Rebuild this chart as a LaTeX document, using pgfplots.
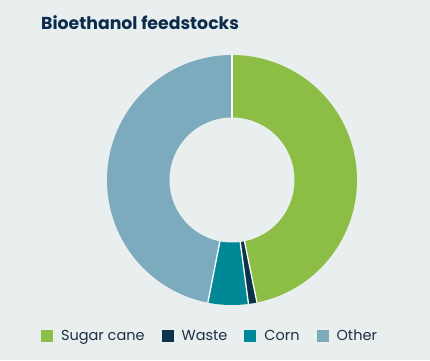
\documentclass[border=0pt]{standalone}
\usepackage{fontspec}
\setmainfont{Poppins}
\usepackage{pgfplots}
\usepackage{pgfplotstable}
\pgfplotsset{compat=1.18}
\definecolor{bg}{HTML}{E9EEEF}
\definecolor{cSugar}{HTML}{8CBD45}
\definecolor{cWaste}{HTML}{0B3349}
\definecolor{cCorn}{HTML}{008896}
\definecolor{cOther}{HTML}{7BABBD}
\definecolor{titlec}{HTML}{0B2B4B}
\definecolor{textc}{HTML}{1C3044}

\pgfplotstableread{
label value
Sugar 46.8
Waste 1.1
Corn 5.2
Other 46.9
}\feedstocks
\pgfplotstablegetelem{0}{value}\of\feedstocks \let\vA\pgfplotsretval
\pgfplotstablegetelem{1}{value}\of\feedstocks \let\vB\pgfplotsretval
\pgfplotstablegetelem{2}{value}\of\feedstocks \let\vC\pgfplotsretval
\pgfplotstablegetelem{3}{value}\of\feedstocks \let\vD\pgfplotsretval
\pgfmathsetmacro{\tot}{\vA+\vB+\vC+\vD}
\pgfmathsetmacro{\aA}{90}
\pgfmathsetmacro{\aB}{\aA-(\vA/\tot)*360}
\pgfmathsetmacro{\aC}{\aB-(\vB/\tot)*360}
\pgfmathsetmacro{\aD}{\aC-(\vC/\tot)*360}
\pgfmathsetmacro{\aE}{\aD-(\vD/\tot)*360}
\pgfmathsetmacro{\xA}{cos(\aA)}\pgfmathsetmacro{\yA}{sin(\aA)}
\pgfmathsetmacro{\xB}{cos(\aB)}\pgfmathsetmacro{\yB}{sin(\aB)}
\pgfmathsetmacro{\xC}{cos(\aC)}\pgfmathsetmacro{\yC}{sin(\aC)}
\pgfmathsetmacro{\xD}{cos(\aD)}\pgfmathsetmacro{\yD}{sin(\aD)}
\def\rin{0.5}

\begin{document}
\begin{tikzpicture}
\fill[bg] (0pt,0pt) rectangle (430pt,360pt);
\node[anchor=base west, inner sep=0pt, text=titlec, font=\fontsize{17.3}{20}\selectfont\bfseries] at (41pt,331pt) {Bioethanol feedstocks};
\begin{axis}[
  at={(232pt,180pt)}, anchor=center,
  scale only axis, width=250pt, height=250pt,
  xmin=-1, xmax=1, ymin=-1, ymax=1,
  hide axis, clip=false,
  legend columns=4,
  legend image code/.code={\fill[#1,draw=none] (0pt,-6pt) rectangle (12pt,6pt);},
  legend style={at={(axis description cs:0.408,-0.125)}, anchor=center,
    draw=none, fill=none, text=textc,
    font=\fontsize{14.5}{16}\selectfont,
    nodes={inner sep=0pt},
    /tikz/every odd column/.append style={column sep=8pt},
    /tikz/every even column/.append style={column sep=17pt}},
]
\addplot[fill=cSugar, draw=none, domain=\aB:\aA, samples=80, forget plot] ({cos(x)},{sin(x)}) -- (0,0) -- cycle;
\addplot[fill=cWaste, draw=none, domain=\aC:\aB, samples=10, forget plot] ({cos(x)},{sin(x)}) -- (0,0) -- cycle;
\addplot[fill=cCorn, draw=none, domain=\aD:\aC, samples=20, forget plot] ({cos(x)},{sin(x)}) -- (0,0) -- cycle;
\addplot[fill=cOther, draw=none, domain=\aE:\aD, samples=80, forget plot] ({cos(x)},{sin(x)}) -- (0,0) -- cycle;
\addplot[white, line width=1.3pt, forget plot] coordinates {(0,0) (\xA,\yA)};
\addplot[white, line width=1.3pt, forget plot] coordinates {(0,0) (\xB,\yB)};
\addplot[white, line width=1.3pt, forget plot] coordinates {(0,0) (\xC,\yC)};
\addplot[white, line width=1.3pt, forget plot] coordinates {(0,0) (\xD,\yD)};
\addplot[fill=bg, draw=none, domain=0:360, samples=120, forget plot] ({\rin*cos(x)},{\rin*sin(x)}) -- cycle;
\addlegendimage{fill=cSugar}\addlegendentry{Sugar cane}
\addlegendimage{fill=cWaste}\addlegendentry{Waste}
\addlegendimage{fill=cCorn}\addlegendentry{Corn}
\addlegendimage{fill=cOther}\addlegendentry{Other}
\end{axis}
\end{tikzpicture}
\end{document}
